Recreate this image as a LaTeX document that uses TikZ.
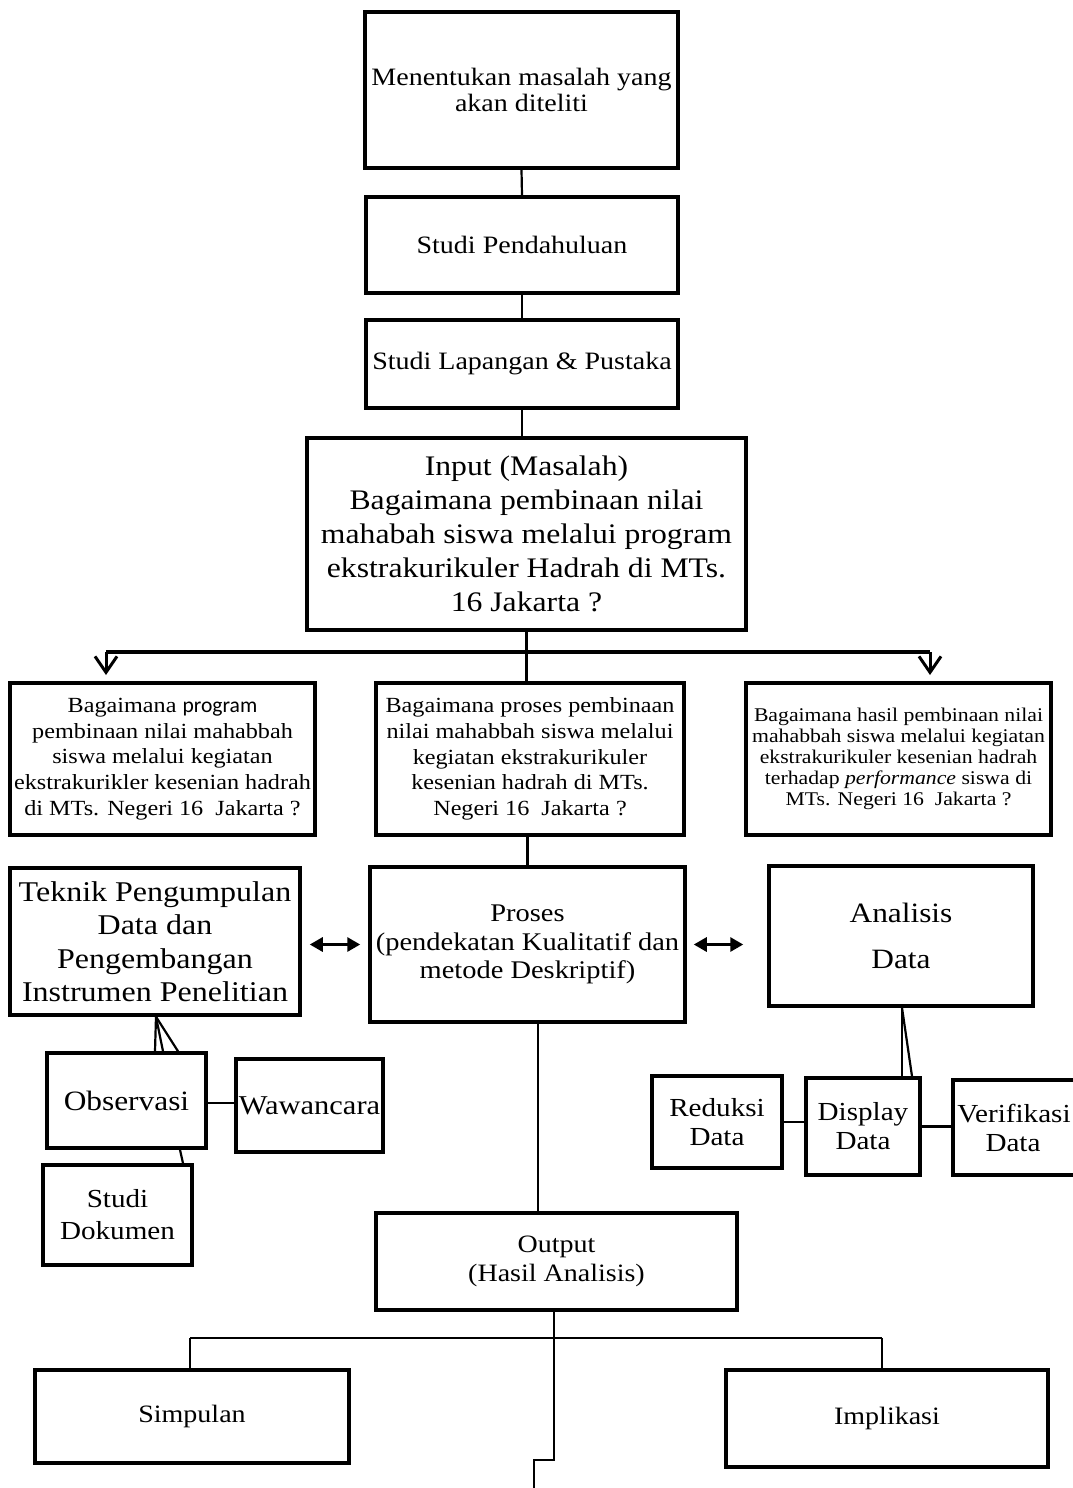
\documentclass[tikz,border=0pt]{standalone}
\usepackage{fontspec}
\setmainfont[FakeStretch=1.12]{Liberation Serif}
\newfontfamily\carl[FakeStretch=1.0]{Carlito}
\usetikzlibrary{arrows.meta}
\newcommand\fs[2]{\fontsize{#1}{#2}\selectfont}
\tikzset{
  box/.style={draw, line width=3.5pt, inner sep=0pt, align=center},
  conn/.style={line width=2.2pt},
  bar/.style={line width=4.5pt},
  dbl/.style={line width=3pt, {Triangle[length=13pt,width=14pt]}-{Triangle[length=13pt,width=14pt]}},
  barb/.style={line width=3pt, -{Straight Barb[length=16pt,width=22pt]}}
}
\newcommand\bx[7][]{\node[box,#1,minimum width={#4pt-#2pt},minimum height={#5pt-#3pt}] (#6) at ({(#2+#4)/2},{(#3+#5)/2}) {#7};}
\begin{document}
\begin{tikzpicture}[x=1pt,y=-1pt]
\clip (0,0) rectangle (1073,1488);
\fill[white] (0,0) rectangle (1073,1488);

\bx[font=\fs{25}{26}]{365}{12}{678}{168}{b1}{\raisebox{-5pt}{Menentukan masalah yang}\\\raisebox{-5pt}{akan diteliti}}
\bx[font=\fs{25}{28}]{366}{197}{678}{293}{b2}{Studi Pendahuluan}
\bx[font=\fs{25}{28}]{366}{320}{678}{408}{b3}{Studi Lapangan \& Pustaka}
\bx[font=\fs{28.3}{34}]{307}{438}{746}{630}{inp}{Input (Masalah)\\Bagaimana pembinaan nilai\\mahabah siswa melalui program\\ekstrakurikuler Hadrah di MTs.\\16 Jakarta ?}

\bx[font=\fs{21.6}{25.7}]{10}{683}{315}{835}{L1}{Bagaimana {\carl program}\\pembinaan nilai mahabbah\\siswa melalui kegiatan\\ekstrakurikler kesenian hadrah\\di MTs. Negeri 16~~Jakarta ?}
\bx[font=\fs{21.6}{25.7}]{376}{683}{684}{835}{C1}{Bagaimana proses pembinaan\\nilai mahabbah siswa melalui\\kegiatan ekstrakurikuler\\kesenian hadrah di MTs.\\Negeri 16~~Jakarta ?}
\bx[font=\fs{19.4}{21}]{746}{683}{1051}{835}{R1}{Bagaimana hasil pembinaan nilai\\mahabbah siswa melalui kegiatan\\ekstrakurikuler kesenian hadrah\\terhadap \textit{performance} siswa di\\MTs. Negeri 16~~Jakarta ?}

\bx[font=\fs{28.6}{33.5}]{10}{868}{300}{1015}{tek}{Teknik Pengumpulan\\Data dan\\Pengembangan\\Instrumen Penelitian}
\bx[font=\fs{25.4}{28.5}]{370}{867}{685}{1022}{pro}{Proses\\(pendekatan Kualitatif dan\\metode Deskriptif)}
\bx[font=\fs{28}{46}]{769}{866}{1033}{1006}{ana}{Analisis\\Data}

\bx[font=\fs{28}{30}]{47}{1053}{206}{1148}{obs}{Observasi}
\bx[font=\fs{27.2}{30}]{236}{1059}{383}{1152}{waw}{Wawancara}
\bx[font=\fs{26}{32}]{43}{1165}{192}{1265}{dok}{Studi\\Dokumen}

\bx[font=\fs{26}{29}]{652}{1076}{782}{1168}{red}{Reduksi\\Data}
\bx[font=\fs{26}{29}]{806}{1078}{920}{1175}{dis}{Display\\Data}
\bx[font=\fs{26}{29}]{953}{1080}{1095}{1175}{ver}{\hspace*{-20pt}Verifikasi\\\hspace*{-22pt}Data}

\bx[font=\fs{25}{29}]{376}{1213}{737}{1310}{out}{Output\\(Hasil Analisis)}
\bx[font=\fs{25}{28}]{35}{1370}{349}{1463}{sim}{Simpulan}
\bx[font=\fs{25}{28}]{726}{1370}{1048}{1467}{imp}{Implikasi}

% top chain
\draw[conn] (b1.south) -- (b2.north);
\draw[conn] (b2.south) -- (b3.north);
\draw[conn] (b3.south) -- (b3.south |- inp.north);
\draw[conn] (inp.south) -- (inp.south |- C1.north);

% branching bar
\coordinate (barL) at (106,652);
\coordinate (barR) at (930,652);
\coordinate (barLt) at (106,675);
\coordinate (barRt) at (930,675);
\draw[bar] (barL) -- (barR);
\draw[barb] (barL) -- (barLt);
\draw[barb] (barR) -- (barRt);

% middle
\draw[conn] (pro.north |- C1.south) -- (pro.north);
\draw[dbl] ([xshift=8pt]tek.east |- pro.west) -- ([xshift=-8pt]pro.west);
\draw[dbl] ([xshift=7pt]pro.east) -- ([xshift=-24pt]ana.west |- pro.east);

% teknik children
\draw[conn] ([xshift=1pt]tek.south) -- ([xshift=0pt]tek.south |- obs.north);
\draw[conn] ([xshift=1pt]tek.south) -- ([xshift=8pt]tek.south |- obs.north);
\draw[conn] ([xshift=1pt]tek.south) -- ([xshift=23pt]tek.south |- obs.north);
\draw[conn] ([yshift=-2.5pt]obs.east) -- ([yshift=-2.5pt]obs.east -| waw.west);
\draw[conn] ([xshift=53.5pt]obs.south) -- ([xshift=65.5pt]dok.north);

% analisis children
\draw[conn] ([xshift=1pt]ana.south) -- ([xshift=1pt]ana.south |- dis.north);
\draw[conn] ([xshift=1pt]ana.south) -- ([xshift=11pt]ana.south |- dis.north);
\draw[conn] (red.east) -- (red.east -| dis.west);
\draw[conn] (dis.east) -- (dis.east -| ver.west);

% proses to output
\draw[conn] ([xshift=10.5pt]pro.south) -- ([xshift=10.5pt]pro.south |- out.north);

% output tree
\coordinate (oj) at (554,1338);
\coordinate (sj) at (190,1338);
\coordinate (ij) at (882,1338);
\coordinate (t1) at (554,1460);
\coordinate (t2) at (534,1460);
\coordinate (t3) at (534,1492);
\draw[conn] ([xshift=-2.5pt]out.south) -- (oj);
\draw[conn] (sj) -- (ij);
\draw[conn] (sj) -- (sj |- sim.north);
\draw[conn] (ij) -- (ij |- imp.north);
\draw[conn] (oj) -- (t1) -- (t2) -- (t3);
\end{tikzpicture}
\end{document}
